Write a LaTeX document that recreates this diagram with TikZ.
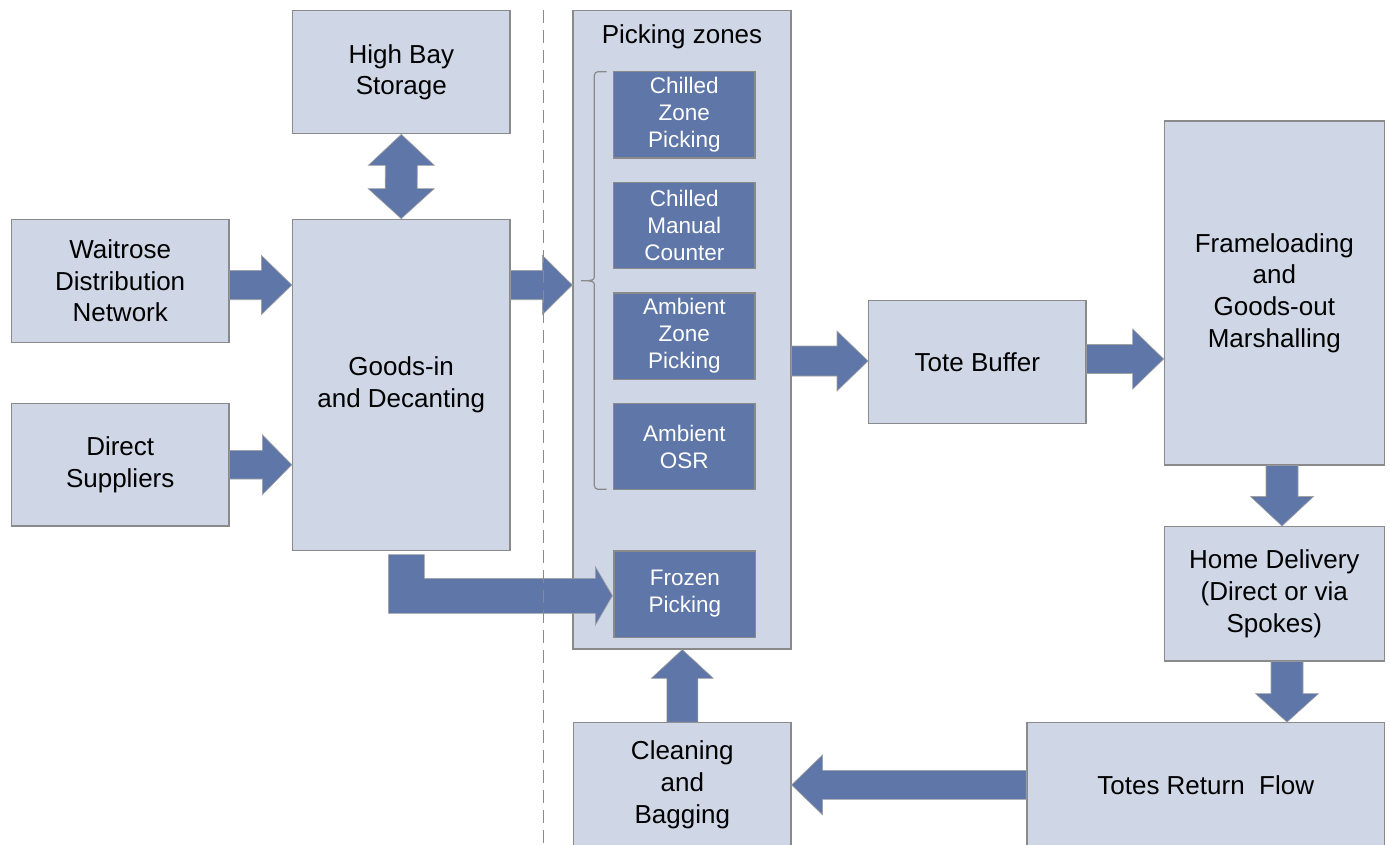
\documentclass[tikz,border=0pt]{standalone}
\usepackage{fontspec}
\setmainfont{Liberation Sans}
\usetikzlibrary{calc}
\definecolor{boxfill}{HTML}{CFD7E6}
\definecolor{darkfill}{HTML}{5E76A8}
\definecolor{edgegray}{HTML}{8A8A8A}
\newcommand\blockarrow[5]{%
  \coordinate (ba-h) at ($(#2)!#5!(#1)$);
  \path[arrowfill] ($(#1)!#3!90:(#2)$) -- ($(ba-h)!#3!90:(#2)$) -- ($(ba-h)!#4!90:(#2)$) -- (#2)
     -- ($(ba-h)!#4!-90:(#2)$) -- ($(ba-h)!#3!-90:(#2)$) -- ($(#1)!#3!-90:(#2)$) -- cycle;
}
\tikzset{
  gbox/.style={draw=edgegray, line width=1.3pt, fill=boxfill, inner sep=0pt, align=center,
    font=\fontsize{26}{31.7}\selectfont, text=black},
  inbox/.style={draw=edgegray, line width=1.3pt, fill=darkfill, inner sep=0pt, align=center,
    font=\fontsize{22.5}{27}\selectfont, text=white, minimum width=141.5pt, minimum height=86.3pt},
  arrowfill/.style={fill=darkfill, draw=edgegray!80, line width=0.6pt},
  bracestyle/.style={draw=edgegray, line width=1.2pt},
  dashline/.style={draw=edgegray, line width=1.3pt, dash pattern=on 13pt off 7pt}
}
\begin{document}
\begin{tikzpicture}[x=1pt,y=-1pt]
\useasboundingbox (0,0) rectangle (1390,844);
% boxes
\node[gbox, minimum width=217.3pt, minimum height=123pt] (hbs) at (401.3,72.2) {High Bay\\Storage};
\node[gbox, minimum width=217.5pt, minimum height=123pt] (wdn) at (120.2,280.8) {Waitrose\\Distribution\\Network};
\node[gbox, minimum width=217.5pt, minimum height=122.7pt] (ds) at (120.2,464.7) {Direct\\Suppliers};
\node[gbox, minimum width=217.5pt, minimum height=331.4pt] (gid) at (401.2,385) {Goods-in\\and Decanting};
\node[gbox, minimum width=218pt, minimum height=638.3pt] (pz) at (682,329.8) {};
\node[anchor=base, font=\fontsize{26}{31.7}\selectfont, inner sep=0pt] (pzl) at (682,43.5) {Picking zones};
\node[inbox] (cz) at (684.3,114.8) {Chilled\\Zone\\Picking};
\node[inbox] (cm) at (684.3,225.5) {Chilled\\Manual\\Counter};
\node[inbox] (az) at (684.3,336) {Ambient\\Zone\\Picking};
\node[inbox] (ao) at (684.3,446.5) {Ambient\\OSR};
\node[inbox] (fz) at (684.8,594) {Frozen\\Picking};
\node[gbox, minimum width=217.3pt, minimum height=122.6pt] (tb) at (977.3,362) {Tote Buffer};
\node[gbox, minimum width=220pt, minimum height=344pt] (fl) at (1274.3,293) {Frameloading\\and\\Goods-out\\Marshalling};
\node[gbox, minimum width=220pt, minimum height=134.3pt] (hd) at (1274.3,593.8) {Home Delivery\\(Direct or via\\Spokes)};
\node[gbox, minimum width=357.7pt, minimum height=124.3pt] (trf) at (1205.7,784.9) {Totes Return\ \ Flow};
\node[gbox, minimum width=217.3pt, minimum height=124.3pt] (cb) at (682.3,784.9) {Cleaning\\and\\Bagging};
% brace
\draw[bracestyle] (606.7,71.7) -- (598,71.7) to[out=180,in=90] (594.3,75.5) -- (594.3,277)
  to[out=-90,in=0] (588,280.7) -- (581,280.7) -- (588,280.7) to[out=0,in=90] (594.3,284.5)
  -- (594.3,485.5) to[out=-90,in=180] (598,489.3) -- (606.7,489.3);
% double arrow high bay <-> goods-in
\coordinate (d1) at (hbs.south); \coordinate (d2) at (gid.north);
\path[arrowfill] (d1) -- ($(d1)+(33,31)$) -- ($(d1)+(16,31)$) -- ($(d2)+(16,-30)$) -- ($(d2)+(33,-30)$)
  -- (d2) -- ($(d2)+(-33,-30)$) -- ($(d2)+(-16,-30)$) -- ($(d1)+(-16,31)$) -- ($(d1)+(-33,31)$) -- cycle;
% waitrose -> goods-in
\coordinate (a2t) at ($(wdn.east)+(0,4.2)$); \coordinate (a2p) at (a2t -| gid.west);
\blockarrow{a2t}{a2p}{14.7pt}{29.7pt}{30.5pt}
% direct -> goods-in
\coordinate (a3t) at (ds.east); \coordinate (a3p) at (ds.east -| gid.west);
\blockarrow{a3t}{a3p}{14.3pt}{30pt}{29.5pt}
% goods-in -> picking
\coordinate (a4t) at ($(gid.east)+(0,-100)$); \coordinate (a4p) at (a4t -| pz.west);
\blockarrow{a4t}{a4p}{14.7pt}{29.7pt}{30pt}
% elbow goods-in -> frozen
\coordinate (e0) at ($(gid.south)+(-12.9,3.3)$);
\coordinate (etip) at ($(fz.west)+(-1,1.7)$);
\path[arrowfill] (e0) -- ++(36,0) -- ($(e0 |- etip)+(36,-17.4)$) -- ($(etip)+(-17,-17.4)$)
  -- ($(etip)+(-17,-29)$) -- (etip) -- ($(etip)+(-17,29.3)$) -- ($(etip)+(-17,17.6)$)
  -- ($(e0 |- etip)+(0,17.6)$) -- cycle;
% cleaning -> picking
\coordinate (a6t) at (cb.north); \coordinate (a6p) at (cb.north |- pz.south);
\blockarrow{a6t}{a6p}{15.5pt}{31pt}{28.7pt}
% picking -> tote
\coordinate (a7t) at ($(tb.west -| pz.east)+(0,-1)$); \coordinate (a7p) at ($(tb.west)+(0,-1)$);
\blockarrow{a7t}{a7p}{15pt}{30pt}{31pt}
% tote -> frame
\coordinate (a8t) at ($(tb.east)+(0,-3)$); \coordinate (a8p) at (a8t -| fl.west);
\blockarrow{a8t}{a8p}{14.5pt}{30pt}{31pt}
% frame -> home
\coordinate (a9t) at ($(fl.south)+(7.7,0)$); \coordinate (a9p) at (a9t |- hd.north);
\blockarrow{a9t}{a9p}{16pt}{31.5pt}{29.5pt}
% home -> totes return
\coordinate (a10t) at ($(hd.south)+(12.7,0)$); \coordinate (a10p) at (a10t |- trf.north);
\blockarrow{a10t}{a10p}{16pt}{31.5pt}{28.5pt}
% totes return -> cleaning
\coordinate (a11t) at (trf.west); \coordinate (a11p) at (trf.west -| cb.east);
\blockarrow{a11t}{a11p}{14.5pt}{30pt}{31pt}
% dashed divider
\coordinate (dtop) at (543.5,10); \coordinate (dbot) at (543.5,844);
\draw[dashline] (dtop) -- (dbot);
\end{tikzpicture}
\end{document}
